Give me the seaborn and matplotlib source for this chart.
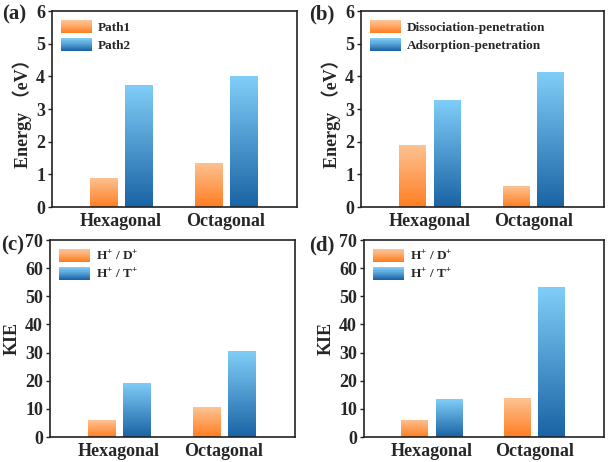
import numpy as np
import pandas as pd
import matplotlib
matplotlib.use("Agg")
import matplotlib.pyplot as plt
import seaborn as sns
from matplotlib.colors import LinearSegmentedColormap, to_rgb
from matplotlib.legend_handler import HandlerBase
from matplotlib.patches import Rectangle

# ---------------- data ----------------
categories = ["Hexagonal", "Octagonal"]

a_series = ["Path1", "Path2"]
a_s1 = [0.90, 1.35]
a_s2 = [3.75, 4.00]

b_series = ["Dissociation-penetration", "Adsorption-penetration"]
b_s1 = [1.91, 0.63]
b_s2 = [3.27, 4.13]

cd_series = ["H$^{+}$ / D$^{+}$", "H$^{+}$ / T$^{+}$"]
c_s1 = [5.9, 10.5]
c_s2 = [19.3, 30.4]
d_s1 = [6.1, 13.7]
d_s2 = [13.5, 53.2]

energy_ticks = [0, 1, 2, 3, 4, 5, 6]
kie_ticks = [0, 10, 20, 30, 40, 50, 60, 70]

# gradient colours (top -> bottom)
orange_grad = ["#FDC394", "#FF7E22"]
blue_grad = ["#80CEF8", "#1A63A5"]

sns.set_theme(style="white")
plt.rcParams["font.family"] = ["Liberation Serif", "Noto Sans CJK SC"]
plt.rcParams["font.weight"] = "bold"
plt.rcParams["mathtext.fontset"] = "custom"
plt.rcParams["mathtext.rm"] = "Liberation Serif:bold"
plt.rcParams["mathtext.it"] = "Liberation Serif:bold"
plt.rcParams["mathtext.bf"] = "Liberation Serif:bold"

fig = plt.figure(figsize=(6.14, 4.62), dpi=100)
W, H = 614, 462


def add_ax(l, r, t, b):
    return fig.add_axes([l / W, 1 - b / H, (r - l) / W, (b - t) / H])


class GradHandler(HandlerBase):
    def __init__(self, cols, n=12):
        super().__init__()
        self.cols = cols
        self.n = n

    def create_artists(self, legend, orig_handle, xdescent, ydescent,
                       width, height, fontsize, trans):
        c0 = np.array(to_rgb(self.cols[0]))
        c1 = np.array(to_rgb(self.cols[1]))
        arts = []
        h = height / self.n
        for i in range(self.n):
            f = i / (self.n - 1)
            col = c1 * (1 - f) + c0 * f  # bottom dark -> top light
            r = Rectangle((-xdescent, -ydescent + i * h), width, h * 1.02,
                          facecolor=col, edgecolor="none", transform=trans)
            arts.append(r)
        return arts


def panel(ax, s1, s2, names, ylim, ticks, ylabel, label, label_xy):
    df = pd.DataFrame({
        "cat": categories * 2,
        "val": list(s1) + list(s2),
        "ser": [names[0]] * 2 + [names[1]] * 2,
    })
    sns.barplot(data=df, x="cat", y="val", hue="ser", ax=ax,
                width=0.67, gap=0.23, palette=["#FF9A4F", "#3F8FD0"],
                legend=False, saturation=1)
    grads = [orange_grad, blue_grad]
    patches = list(ax.patches)
    for i, p in enumerate(patches):
        cols = grads[0] if i < 2 else grads[1]
        cmap = LinearSegmentedColormap.from_list("g", [cols[1], cols[0]])
        x0, y0 = p.get_x(), p.get_y()
        w, h = p.get_width(), p.get_height()
        grad = np.linspace(0, 1, 256).reshape(-1, 1)
        im = ax.imshow(grad, extent=[x0, x0 + w, y0, y0 + h], origin="lower",
                       aspect="auto", cmap=cmap, zorder=2)
        im.set_clip_path(p)
        p.set_facecolor("none")
        p.set_edgecolor("none")
    ax.set_xlim(-0.66, 1.68)
    ax.set_ylim(*ylim)
    ax.set_yticks(ticks)
    ax.set_yticklabels([str(t) for t in ticks], fontsize=13, fontweight="bold")
    ax.set_xticks([0, 1])
    ax.set_xticklabels(categories, fontsize=13, fontweight="bold")
    ax.set_xlabel("")
    ax.set_ylabel(ylabel, fontsize=13, fontweight="bold", labelpad=3)
    ax.tick_params(axis="y", direction="out", length=3, width=1, left=True,
                   pad=2, color="#222222")
    ax.tick_params(axis="x", length=0, pad=4)
    for s in ax.spines.values():
        s.set_color("#222222")
        s.set_linewidth(1.2)
    h1 = Rectangle((0, 0), 1, 1)
    h2 = Rectangle((0, 0), 1, 1)
    ax.legend([h1, h2], names, loc="upper left", frameon=False,
              handler_map={h1: GradHandler(orange_grad),
                           h2: GradHandler(blue_grad)},
              handlelength=2.3, handleheight=1.15,
              prop={"weight": "bold", "size": 9.5},
              borderaxespad=0.3, labelspacing=0.3, handletextpad=0.5)
    fig.text(label_xy[0] / W, 1 - label_xy[1] / H, label, fontsize=15,
             fontweight="bold", ha="left", va="center")


ax_a = add_ax(52, 297, 11, 207)
ax_b = add_ax(361, 604, 11, 207)
ax_c = add_ax(50, 295, 240, 437)
ax_d = add_ax(364, 604, 240, 437)

panel(ax_a, a_s1, a_s2, a_series, (0, 6), energy_ticks, "Energy （eV）", "(a)", (2, 14))
panel(ax_b, b_s1, b_s2, b_series, (0, 6), energy_ticks, "Energy （eV）", "(b)", (309, 14))
panel(ax_c, c_s1, c_s2, cd_series, (0, 70), kie_ticks, "KIE", "(c)", (1, 245))
panel(ax_d, d_s1, d_s2, cd_series, (0, 70), kie_ticks, "KIE", "(d)", (309, 245))

fig.savefig("out.png", dpi=100)
